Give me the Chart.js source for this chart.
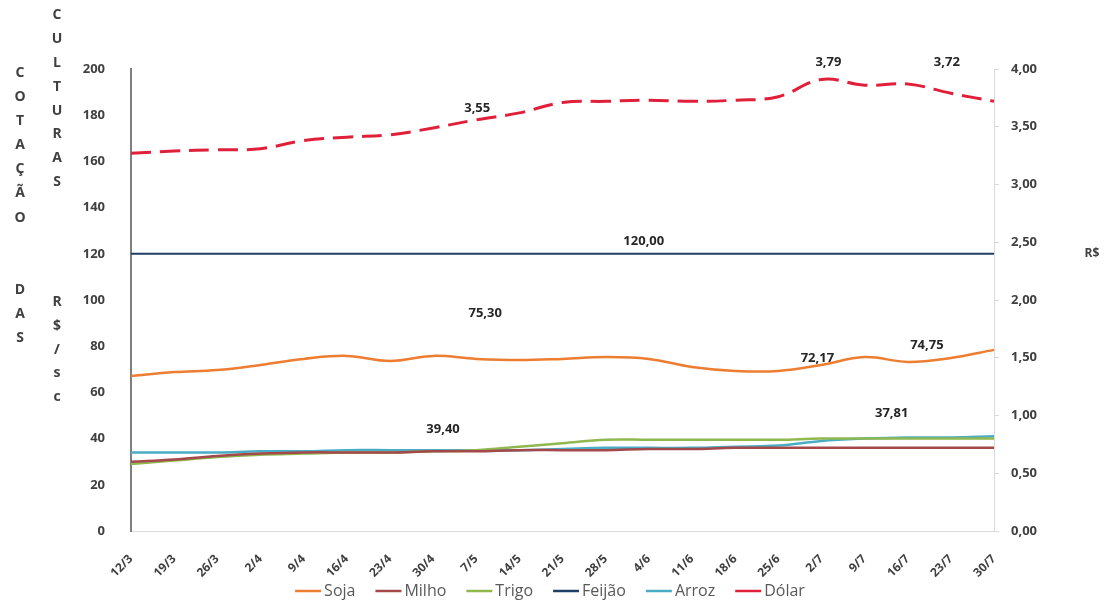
<!DOCTYPE html>
<html>
<head>
<meta charset="utf-8">
<script src="https://cdn.jsdelivr.net/npm/chart.js@4.4.1/dist/chart.umd.min.js"></script>
<style>
html,body{margin:0;padding:0;background:#fff;}
#wrap{width:1109px;height:604px;position:relative;}
</style>
</head>
<body>
<div id="wrap"><canvas id="cotacao"></canvas></div>
<script>
// semanas (dia/mes)
const semanas = ["12/3","19/3","26/3","2/4","9/4","16/4","23/4","30/4","7/5","14/5","21/5",
                 "28/5","4/6","11/6","18/6","25/6","2/7","9/7","16/7","23/7","30/7"];

// R$/sc
const soja   = [67.1,68.8,69.7,71.9,74.5,75.8,73.6,75.8,74.5,74.0,74.5,75.3,74.5,71.0,69.3,69.3,71.9,75.3,73.2,74.9,78.4];
const milho  = [30.0,31.0,32.5,33.5,34.0,34.0,34.0,34.5,34.5,35.0,35.0,35.0,35.5,35.5,36.0,36.0,36.0,36.0,36.0,36.0,36.0];
const trigo  = [29.0,30.5,32.0,33.0,33.5,34.0,34.0,34.5,35.0,36.5,38.0,39.5,39.5,39.5,39.5,39.5,40.0,40.0,40.0,40.0,40.0];
const feijao = [120,120,120,120,120,120,120,120,120,120,120,120,120,120,120,120,120,120,120,120,120];
const arroz  = [34.0,34.0,34.0,34.5,34.5,35.0,35.0,35.0,35.0,35.0,35.5,36.0,36.0,36.0,36.5,37.0,39.0,40.0,40.5,40.5,41.0];
// R$
const dolar  = [3.27,3.29,3.30,3.31,3.38,3.41,3.43,3.49,3.56,3.62,3.71,3.72,3.73,3.72,3.73,3.76,3.91,3.86,3.87,3.79,3.72];

// rotulos de dados como aparecem no grafico
const rotulos = [
  {serie: 5, ponto: 8,  texto: "3,55",   dx: 1,   dy: -12},
  {serie: 5, ponto: 16, texto: "3,79",   dx: 7,   dy: -17},
  {serie: 5, ponto: 19, texto: "3,72",   dx: -4,  dy: -31},
  {serie: 3, ponto: 12, texto: "120,00", dx: -5,  dy: -13},
  {serie: 0, ponto: 8,  texto: "75,30",  dx: 9,   dy: -46},
  {serie: 0, ponto: 16, texto: "72,17",  dx: -4,  dy: -7},
  {serie: 0, ponto: 19, texto: "74,75",  dx: -24, dy: -13},
  {serie: 2, ponto: 7,  texto: "39,40",  dx: 10,  dy: -22},
  {serie: 2, ponto: 18, texto: "37,81",  dx: -16, dy: -25}
];

const tituloEsq1 = "COTAÇÃO  DAS";
const tituloEsq2 = "CULTURAS    R$/sc";

const fonte = "'Open Sans', 'DejaVu Sans', sans-serif";
const virgula = v => v.toFixed(2).replace('.', ',');

const extras = {
  id: 'extras',
  afterDatasetsDraw(chart) {
    const ctx = chart.ctx;
    ctx.save();
    ctx.font = "bold 13px " + fonte;
    ctx.fillStyle = "#262626";
    ctx.textAlign = "center";
    ctx.textBaseline = "middle";
    rotulos.forEach(r => {
      const p = chart.getDatasetMeta(r.serie).data[r.ponto];
      ctx.fillText(r.texto, p.x + r.dx, p.y + r.dy);
    });
    ctx.restore();
  },
  afterDraw(chart) {
    const ctx = chart.ctx;
    ctx.save();
    ctx.font = "bold 14px " + fonte;
    ctx.fillStyle = "#404040";
    ctx.textAlign = "center";
    ctx.textBaseline = "middle";
    [...tituloEsq1].forEach((c, k) => ctx.fillText(c, 20, 73 + k * 24.1));
    [...tituloEsq2].forEach((c, k) => ctx.fillText(c, 57, 15 + k * 23.9));
    ctx.font = "bold 12px " + fonte;
    ctx.fillText("R$", 1092, 254);

    // legenda
    ctx.font = "16px " + fonte;
    ctx.fillStyle = "#595959";
    ctx.textAlign = "left";
    const itens = chart.data.datasets;
    const larg = itens.map(d => 29 + ctx.measureText(d.label).width);
    const gap = 20;
    const total = larg.reduce((a, b) => a + b, 0) + gap * (itens.length - 1);
    let x = 550 - total / 2;
    const y = 591;
    itens.forEach((d, k) => {
      ctx.strokeStyle = d.borderColor;
      ctx.lineWidth = 2.5;
      ctx.beginPath();
      ctx.moveTo(x, y);
      ctx.lineTo(x + 26, y);
      ctx.stroke();
      ctx.fillText(d.label, x + 29, y);
      x += larg[k] + gap;
    });
    ctx.restore();
  }
};

const linha = (label, data, cor, extra) => Object.assign({
  label, data,
  borderColor: cor, backgroundColor: cor,
  borderWidth: 2.5, pointRadius: 0, tension: 0.4,
  yAxisID: 'y', fill: false
}, extra || {});

new Chart(document.getElementById('cotacao'), {
  type: 'line',
  data: {
    labels: semanas,
    datasets: [
      linha('Soja', soja, '#ed7d31'),
      linha('Milho', milho, '#a5484a'),
      linha('Trigo', trigo, '#8fb84f'),
      linha('Feijão', feijao, '#1f3f66', {borderWidth: 2, tension: 0}),
      linha('Arroz', arroz, '#4bacc6'),
      linha('Dólar', dolar, '#e0203a', {borderWidth: 3, borderDash: [20, 9], yAxisID: 'y1'})
    ]
  },
  options: {
    responsive: true,
    maintainAspectRatio: false,
    animation: false,
    layout: {padding: {top: 69, bottom: 0, left: 0, right: 0}},
    scales: {
      x: {
        offset: false,
        grid: {display: false},
        border: {display: true, color: '#d9d9d9', width: 1},
        ticks: {
          minRotation: 45, maxRotation: 45, padding: 13, autoSkip: false,
          color: '#404040', font: {family: fonte, size: 12, weight: 'bold'}
        },
        afterFit: s => { s.height = 73; }
      },
      y: {
        position: 'left', min: 0, max: 200,
        grid: {display: false},
        border: {display: true, color: '#7f7f7f', width: 2},
        ticks: {stepSize: 20, padding: 18, color: '#404040', font: {family: fonte, size: 13, weight: 'bold'}},
        afterFit: s => { s.width = 131; }
      },
      y1: {
        position: 'right', min: 0, max: 4,
        grid: {display: true, drawOnChartArea: false, drawTicks: true, tickLength: 5, color: '#d9d9d9'},
        border: {display: true, color: '#d9d9d9', width: 1},
        ticks: {stepSize: 0.5, padding: 12, color: '#404040', font: {family: fonte, size: 13, weight: 'bold'},
                callback: v => virgula(v)},
        afterFit: s => { s.width = 115; }
      }
    },
    plugins: {
      legend: {display: false},
      tooltip: {enabled: false}
    }
  },
  plugins: [extras]
});
</script>
</body>
</html>
